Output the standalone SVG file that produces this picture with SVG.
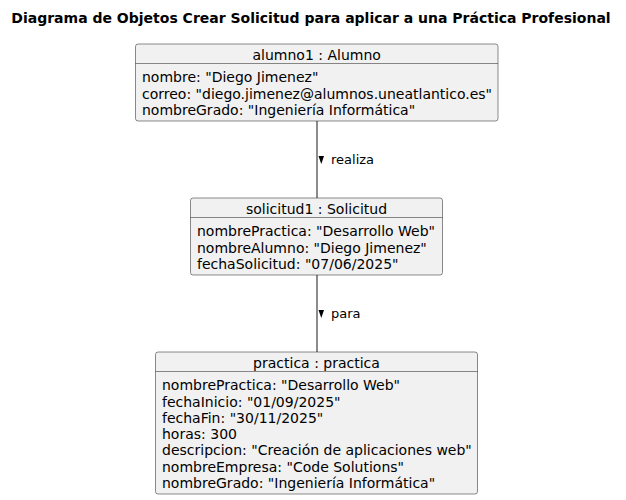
<svg xmlns="http://www.w3.org/2000/svg" width="626" height="500" viewBox="0 0 626 500">
<style>
  .box { fill: #F1F1F1; stroke: #181818; stroke-width: 0.5; }
  .sep { stroke: #181818; stroke-width: 0.5; }
  .t { font-family: "DejaVu Sans", "Liberation Sans", sans-serif; font-size: 14px; fill: #000000; }
  .h { text-anchor: middle; }
  .title { font-family: "DejaVu Sans", "Liberation Sans", sans-serif; font-size: 14px; font-weight: bold; text-anchor: middle; fill: #000000; }
  .lbl { font-family: "DejaVu Sans", "Liberation Sans", sans-serif; font-size: 13px; fill: #000000; }
  .edge { stroke: #181818; stroke-width: 1; fill: none; }
</style>
<rect width="626" height="500" fill="#FFFFFF"/>
<text class="title" x="311" y="23">Diagrama de Objetos Crear Solicitud para aplicar a una Práctica Profesional</text>

<g id="connectors">
  <line class="edge" x1="317" y1="121" x2="317" y2="198"/>
  <polygon points="318.5,156 324,156 321.25,164" fill="#000000"/>
  <text class="lbl" x="331" y="164">realiza</text>
  <line class="edge" x1="317" y1="275" x2="317" y2="352"/>
  <polygon points="318.5,310 324,310 321.25,318" fill="#000000"/>
  <text class="lbl" x="331" y="318">para</text>
</g>

<g id="alumno1">
  <rect class="box" x="135.5" y="44" width="362.5" height="77" rx="2.5"/>
  <line class="sep" x1="135.5" y1="63.5" x2="498" y2="63.5"/>
  <text class="t h" x="316.7" y="59.5">alumno1 : Alumno</text>
  <text class="t" x="142" y="82.2">nombre: "Diego Jimenez"</text>
  <text class="t" x="142" y="98.5">correo: "diego.jimenez@alumnos.uneatlantico.es"</text>
  <text class="t" x="142" y="114.8">nombreGrado: "Ingeniería Informática"</text>
</g>

<g id="solicitud1">
  <rect class="box" x="190.5" y="198" width="252" height="77" rx="2.5"/>
  <line class="sep" x1="190.5" y1="217.5" x2="442.5" y2="217.5"/>
  <text class="t h" x="316.5" y="213.5">solicitud1 : Solicitud</text>
  <text class="t" x="197" y="236.2">nombrePractica: "Desarrollo Web"</text>
  <text class="t" x="197" y="252.5">nombreAlumno: "Diego Jimenez"</text>
  <text class="t" x="197" y="268.8">fechaSolicitud: "07/06/2025"</text>
</g>

<g id="practica">
  <rect class="box" x="155.5" y="352" width="322" height="142" rx="2.5"/>
  <line class="sep" x1="155.5" y1="371.5" x2="477.5" y2="371.5"/>
  <text class="t h" x="316.5" y="367.5">practica : practica</text>
  <text class="t" x="162" y="390.2">nombrePractica: "Desarrollo Web"</text>
  <text class="t" x="162" y="406.5">fechaInicio: "01/09/2025"</text>
  <text class="t" x="162" y="422.8">fechaFin: "30/11/2025"</text>
  <text class="t" x="162" y="439.1">horas: 300</text>
  <text class="t" x="162" y="455.4">descripcion: "Creación de aplicaciones web"</text>
  <text class="t" x="162" y="471.7">nombreEmpresa: "Code Solutions"</text>
  <text class="t" x="162" y="488">nombreGrado: "Ingeniería Informática"</text>
</g>
</svg>
